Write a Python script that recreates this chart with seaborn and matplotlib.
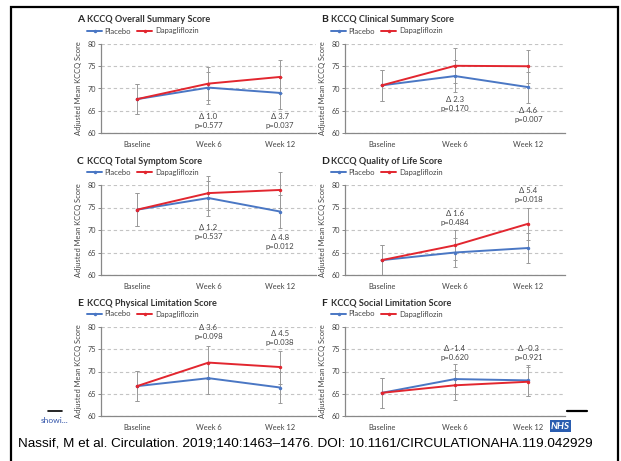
import numpy as np
import pandas as pd
import seaborn as sns
import matplotlib.pyplot as plt
from matplotlib.lines import Line2D
from matplotlib.patches import Rectangle

# data
visits = ["Baseline", "Week 6", "Week 12"]
letters = ["A", "B", "C", "D", "E", "F"]
titles = ["KCCQ Overall Summary Score", "KCCQ Clinical Summary Score",
          "KCCQ Total Symptom Score", "KCCQ Quality of Life Score",
          "KCCQ Physical Limitation Score", "KCCQ Social Limitation Score"]

placebo_mean = [[67.6, 70.2, 69.0], [70.7, 72.8, 70.3], [74.5, 77.1, 74.1],
                [63.3, 65.0, 66.0], [66.7, 68.5, 66.4], [65.2, 68.3, 68.0]]
placebo_lo = [[64.2, 66.6, 65.4], [67.2, 69.2, 66.8], [70.8, 73.2, 70.4],
              [60.0, 61.8, 62.7], [63.3, 65.0, 63.0], [61.9, 64.9, 64.6]]
placebo_hi = [[71.0, 73.8, 72.6], [74.2, 76.4, 73.8], [78.2, 81.0, 77.8],
              [66.6, 68.2, 69.3], [70.1, 72.0, 69.8], [68.5, 71.7, 71.4]]

dapa_mean = [[67.6, 71.1, 72.6], [70.7, 75.1, 75.0], [74.5, 78.2, 78.9],
             [63.3, 66.6, 71.4], [66.7, 72.0, 71.0], [65.2, 66.9, 67.7]]
dapa_lo = [[64.2, 67.5, 69.0], [67.2, 71.3, 71.3], [70.8, 74.4, 74.8],
           [60.0, 63.3, 67.8], [63.3, 68.4, 67.3], [61.9, 63.5, 64.4]]
dapa_hi = [[71.0, 74.8, 76.3], [74.2, 79.0, 78.7], [78.2, 82.1, 83.0],
           [66.6, 70.0, 75.0], [70.1, 75.8, 74.6], [68.5, 70.3, 71.0]]

deltas = [["1.0", "3.7"], ["2.3", "4.6"], ["1.2", "4.8"],
          ["1.6", "5.4"], ["3.6", "4.5"], ["-1.4", "-0.3"]]
pvals = [["0.577", "0.037"], ["0.170", "0.007"], ["0.537", "0.012"],
         ["0.484", "0.018"], ["0.098", "0.038"], ["0.620", "0.921"]]
# where the delta / p labels sit (score units)
label_y = [[62.7, 62.7], [66.5, 64.0], [69.6, 67.3],
           [72.7, 77.7], [78.9, 77.5], [74.2, 74.2]]

caption = "Nassif, M et al. Circulation. 2019;140:1463\u20131476. DOI: 10.1161/CIRCULATIONAHA.119.042929"

sns.set_style("white")
plt.rcParams['font.family'] = ['Lato', 'DejaVu Sans']

blue = "#4a77c4"
red = "#e2262f"
grey = "#9a9a9a"
txt = "#444444"

W, H = 621, 461
fig = plt.figure(figsize=(W / 100, H / 100), dpi=100)

cols = [(101, 316), (345, 565)]
rows = [(44, 133), (185, 275), (327, 416)]

for k in range(6):
    x0, x1 = cols[k % 2]
    y0, y1 = rows[k // 2]
    ax = fig.add_axes([x0 / W, 1 - y1 / H, (x1 - x0) / W, (y1 - y0) / H])

    df = pd.DataFrame({
        "visit": [0, 1, 2] * 2,
        "score": placebo_mean[k] + dapa_mean[k],
        "group": ["Placebo"] * 3 + ["Dapagliflozin"] * 3,
    })

    # error bars underneath
    for mean, lo, hi in [(placebo_mean[k], placebo_lo[k], placebo_hi[k]),
                         (dapa_mean[k], dapa_lo[k], dapa_hi[k])]:
        m = np.array(mean)
        ax.errorbar([0, 1, 2], m, yerr=[m - np.array(lo), np.array(hi) - m],
                    fmt='none', ecolor=grey, elinewidth=0.7, capsize=1.5,
                    capthick=0.7, zorder=1, clip_on=False)

    sns.lineplot(data=df, x="visit", y="score", hue="group",
                 hue_order=["Placebo", "Dapagliflozin"],
                 palette={"Placebo": blue, "Dapagliflozin": red},
                 marker="o", markersize=2.5, markeredgewidth=0,
                 linewidth=1.4, ax=ax, zorder=3)

    for j in range(2):
        ax.text(j + 1, label_y[k][j], f"\u0394 {deltas[k][j]}\np={pvals[k][j]}",
                ha="center", va="center", fontsize=5.6, color=txt,
                linespacing=1.35)

    ax.set_xlim(-0.5, 2.5)
    ax.set_ylim(60, 80)
    ax.set_yticks([60, 65, 70, 75, 80])
    ax.set_xticks([0, 1, 2])
    ax.set_xticklabels(visits)
    ax.set_xticks([0.5, 1.5], minor=True)
    ax.tick_params(axis="x", which="major", length=0, pad=6,
                   labelsize=5.4, labelcolor=txt)
    ax.tick_params(axis="x", which="minor", length=2.5, direction="inout",
                   color="#888888", width=0.7)
    ax.tick_params(axis="y", length=2, width=0.7, color="#888888", pad=1.5,
                   labelsize=5.2, labelcolor=txt, left=True)
    ax.set_xlabel("")
    ax.set_ylabel("Adjusted Mean KCCQ Score", fontsize=5.4, color=txt,
                  labelpad=4)
    ax.yaxis.grid(True, linestyle=(0, (3, 2.5)), color="#c4c4c4",
                  linewidth=0.8)
    ax.set_axisbelow(True)
    for s in ["top", "right"]:
        ax.spines[s].set_visible(False)
    for s in ["left", "bottom"]:
        ax.spines[s].set_color("#888888")
        ax.spines[s].set_linewidth(0.9)

    sns.move_legend(ax, "center left",
                    bbox_to_anchor=((x0 - 14) / W, 1 - (y0 - 13) / H),
                    bbox_transform=fig.transFigure, ncol=2, frameon=False,
                    title=None, fontsize=5.5, handlelength=2.0,
                    handletextpad=0.3, columnspacing=0.8, borderpad=0,
                    borderaxespad=0, labelcolor=txt)

    fig.text((x0 - 24) / W, 1 - (y0 - 24) / H, letters[k], fontsize=7.5,
             fontweight="bold", color="#222222", va="center")
    fig.text((x0 - 14) / W, 1 - (y0 - 24) / H, titles[k], fontsize=6.6,
             fontweight="bold", color="#333333", va="center")

# slide frame and bits around it
fig.add_artist(Rectangle((11 / W, -0.05), 607 / W, 1.05 - 7 / H,
                         transform=fig.transFigure, fill=False,
                         edgecolor="black", linewidth=1.6))
fig.add_artist(Line2D([48 / W, 62 / W], [1 - 411 / H] * 2, color="black",
                      linewidth=1.2))
fig.add_artist(Line2D([567 / W, 587 / W], [1 - 411 / H] * 2, color="black",
                      linewidth=1.6))
fig.text(41 / W, 1 - 420 / H, "showi...", fontsize=6, color="#3355aa",
         va="center")
fig.text(551 / W, 1 - 426 / H, "NHS", fontsize=7, fontweight="bold",
         fontstyle="italic", color="white", va="center",
         bbox=dict(facecolor="#2a5db0", edgecolor="none", pad=1.0))

fig.text(18 / W, 1 - 443 / H, caption, fontsize=9.7, family="Liberation Sans",
         va="center", color="black")

fig.savefig("out.png", dpi=100)
